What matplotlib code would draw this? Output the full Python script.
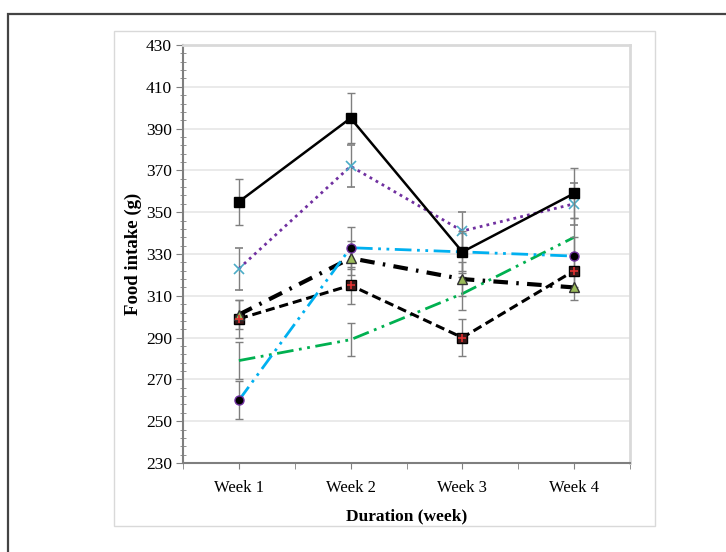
import numpy as np
import matplotlib
matplotlib.use("Agg")
import matplotlib.pyplot as plt
from matplotlib.patches import Rectangle
from matplotlib.ticker import FixedLocator

plt.rcParams["font.family"] = ["Liberation Serif", "DejaVu Serif"]

# -- data ---------------------------------------------------------------------
weeks = ["Week 1", "Week 2", "Week 3", "Week 4"]
s1 = [355, 395, 331, 359]          # black solid, squares
s1_err = [11, 12, 10, 12]
s2 = [323, 372, 341, 354]          # purple dotted, x
s2_err = [10, 10, 9, 10]
s3 = [260, 333, 331, 329]          # blue dash-dot-dot, circles
s3_err = [9, 10, 9, 9]
s4 = [301, 328, 318, 314]          # thick black dash-dot, triangles
s4_err = [7, 8, 8, 6]
s5 = [299, 315, 290, 322]          # black dashed, squares with plus
s5_err = [9, 9, 9, 8]
s6 = [279, 289, 311, 338]          # green dash-dot-dot
s6_err = [9, 8, 8, 9]

x = np.arange(1, len(weeks) + 1)

fig = plt.figure(figsize=(7.26, 5.52), dpi=100)
W, H = 726, 552

# frames around the chart
fig.patches.append(Rectangle((8 / W, -0.05), 1.0, 1 - 14 / H + 0.05,
                             transform=fig.transFigure, fill=False,
                             edgecolor="#444444", lw=1.6))
fig.patches.append(Rectangle((114 / W, 1 - 526 / H), (655 - 114) / W,
                             (526 - 31) / H, transform=fig.transFigure,
                             fill=False, edgecolor="#d9d9d9", lw=1.0))

ax = fig.add_axes([183 / W, 1 - 463 / H, (630 - 183) / W, (463 - 45) / H])

ERR = dict(ecolor="#7f7f7f", elinewidth=1.0, capsize=3, capthick=1.0)

ax.errorbar(x, s6, yerr=s6_err, color="#00b050", lw=2.0,
            dashes=(6, 2, 1, 2, 1, 2), **ERR, zorder=3)
ax.errorbar(x, s5, yerr=s5_err, color="black", lw=2.2, dashes=(3, 1.6),
            marker="s", ms=6.5, mfc="#3a1a1a", mec="black", **ERR, zorder=4)
ax.plot(x, s5, ls="none", marker="+", ms=6, mew=1.2, color="#e03030",
        zorder=5)
ax.errorbar(x, s4, yerr=s4_err, color="black", lw=3.0,
            dashes=(3.5, 2, 0.6, 2), marker="^", ms=6.5, mfc="#9bbb59",
            mec="#333333", **ERR, zorder=4)
ax.errorbar(x, s3, yerr=s3_err, color="#00b0f0", lw=2.0,
            dashes=(6, 2, 1, 2, 1, 2), marker="o", ms=6.5, mfc="black",
            mec="#7030a0", **ERR, zorder=4)
ax.errorbar(x, s2, yerr=s2_err, color="#7030a0", lw=2.0, ls=(0, (1, 1.5)),
            marker="x", ms=6.5, mew=1.2, mec="#4bacc6", **ERR, zorder=4)
ax.errorbar(x, s1, yerr=s1_err, color="black", lw=1.8, marker="s", ms=7,
            mfc="black", mec="black", **ERR, zorder=5)

# -- axes ---------------------------------------------------------------------
ax.set_xlim(0.5, 4.5)
ax.set_ylim(230, 430)
ax.set_xticks(x)
ax.set_xticklabels(weeks)
ax.xaxis.set_minor_locator(FixedLocator(np.arange(0.5, 4.6, 1.0)))
ax.yaxis.set_major_locator(FixedLocator(np.arange(230, 431, 20)))
ax.yaxis.set_minor_locator(FixedLocator(np.arange(230, 431, 4)))
ax.tick_params(axis="x", which="both", direction="out", length=4,
               color="#7f7f7f", labelsize=12, pad=8)
ax.tick_params(axis="y", which="major", direction="out", length=5,
               color="#7f7f7f", labelsize=12.5, pad=3)
ax.tick_params(axis="y", which="minor", direction="inout", length=5,
               color="#7f7f7f")
ax.grid(True, axis="y", which="major", color="#e6e6e6", lw=1.2, zorder=0)
ax.set_axisbelow(True)

for side in ("left", "bottom"):
    ax.spines[side].set_color("#7f7f7f")
    ax.spines[side].set_linewidth(1.5)
for side in ("right", "top"):
    ax.spines[side].set_color("#d9d9d9")
    ax.spines[side].set_linewidth(2.0)

ax.set_xlabel("Duration (week)", fontsize=12.5, fontweight="bold", labelpad=9)
ax.set_ylabel("Food intake (g)", fontsize=13.5, fontweight="bold", labelpad=3)

fig.savefig("out.png", dpi=100)
